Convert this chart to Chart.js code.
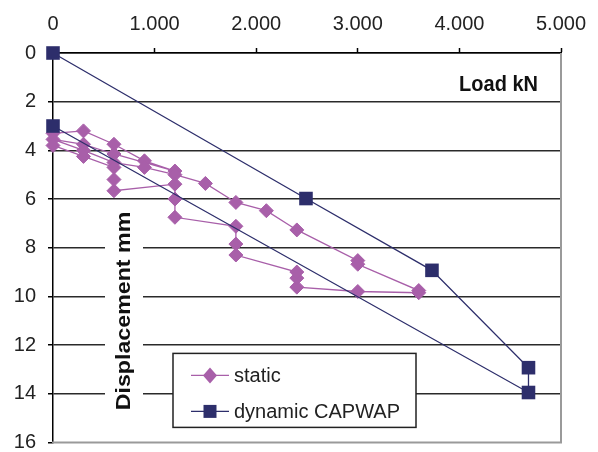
<!DOCTYPE html>
<html lang="en">
<head>
  <meta charset="UTF-8" />
  <title>Load - displacement: static vs dynamic CAPWAP</title>
  <script src="https://cdn.jsdelivr.net/npm/chart.js"></script>
  <style>
    body { margin: 0; background: #fff; }
    #wrap { width: 598px; height: 452px; }
  </style>
</head>
<body>
  <div id="wrap"><canvas id="chart" width="598" height="452"></canvas></div>

  <script>
    // static load test (kN / mm), in reading order
    const staticLoad = [0, 300, 600, 900, 1200, 600, 300, 0, 300, 600, 900, 1200, 1500, 1800, 2100, 2400, 3000, 3000, 3600, 3600,
                        3000, 2400, 2400, 2400, 1800, 1800, 1800, 1200, 1200, 1200, 600, 600, 600, 300, 0];
    const staticDisp = [3.3, 3.2, 3.75, 4.43, 4.85, 4.15, 3.75, 3.55, 4.0, 4.5, 4.7, 5.0, 5.36, 6.14, 6.48, 7.27, 8.53, 8.68, 9.76, 9.85,
                        9.8, 9.62, 9.25, 9.0, 8.3, 7.85, 7.12, 6.75, 6.0, 5.39, 5.66, 5.2, 4.7, 4.25, 3.8];

    // dynamic test (CAPWAP)
    const dynamicLoad = [0, 2490, 3730, 4680, 4680, 0];
    const dynamicDisp = [0, 5.98, 8.93, 12.93, 13.95, 3.0];

    const seriesNames = ['static', 'dynamic CAPWAP'];
    const xTitle = 'Load kN';
    const yTitle = 'Displacement mm';

    const purple = '#a85fa9';
    const navy = '#2d2e6b';
    const FONT = "'Liberation Sans', Arial, sans-serif";

    const toPoints = (xs, ys) => xs.map((x, i) => ({ x: x, y: ys[i] }));
    const fmtThousands = v => String(v).replace(/\B(?=(\d{3})+(?!\d))/g, '.');

    // border, axis title, "Load kN" and the boxed legend
    const extras = {
      id: 'extras',
      beforeDatasetsDraw(chart) {
        const { ctx, chartArea: a } = chart;
        ctx.save();
        ctx.strokeStyle = '#9a9a9a';
        ctx.lineWidth = 2;
        ctx.beginPath();
        ctx.moveTo(a.right, a.top);
        ctx.lineTo(a.right, a.bottom);
        ctx.lineTo(a.left - 1, a.bottom);
        ctx.stroke();

        // y title sits on a white box inside the plot
        ctx.fillStyle = '#fff';
        ctx.fillRect(a.left + 52, a.top + 154, 38, 212);
        ctx.fillStyle = '#111';
        ctx.font = 'bold 20px ' + FONT;
        ctx.textAlign = 'center';
        ctx.textBaseline = 'middle';
        ctx.translate(a.left + 71, a.top + 258);
        ctx.rotate(-Math.PI / 2);
        ctx.scale(1.16, 1);
        ctx.fillText(yTitle, 0, 0);
        ctx.restore();

        ctx.save();
        ctx.fillStyle = '#111';
        ctx.font = 'bold 20px ' + FONT;
        ctx.textAlign = 'right';
        ctx.textBaseline = 'middle';
        ctx.translate(a.right - 23, a.top + 32);
        ctx.scale(1, 1.12);
        ctx.fillText(xTitle, 0, 0);
        ctx.restore();
      },
      afterDatasetsDraw(chart) {
        const { ctx, chartArea: a } = chart;
        const bx = a.left + 120, by = a.bottom - 89, bw = 243, bh = 74;
        ctx.save();
        ctx.fillStyle = '#fff';
        ctx.fillRect(bx, by, bw, bh);
        ctx.strokeStyle = '#222';
        ctx.lineWidth = 1.5;
        ctx.strokeRect(bx, by, bw, bh);

        chart.data.datasets.forEach((ds, i) => {
          const cy = by + 22 + i * 36;
          const mx = bx + 37;
          ctx.strokeStyle = ds.borderColor;
          ctx.lineWidth = 1.3;
          ctx.beginPath();
          ctx.moveTo(bx + 18, cy);
          ctx.lineTo(bx + 56, cy);
          ctx.stroke();
          ctx.fillStyle = ds.pointBackgroundColor;
          ctx.beginPath();
          if (ds.pointStyle === 'rectRot') {
            ctx.moveTo(mx - 7, cy);
            ctx.lineTo(mx, cy - 8);
            ctx.lineTo(mx + 7, cy);
            ctx.lineTo(mx, cy + 8);
            ctx.closePath();
          } else {
            ctx.rect(mx - 6.5, cy - 6.5, 13, 13);
          }
          ctx.fill();

          ctx.fillStyle = '#222';
          ctx.font = '20px ' + FONT;
          ctx.textAlign = 'left';
          ctx.textBaseline = 'middle';
          ctx.fillText(ds.label, bx + 61, cy + 1);
        });
        ctx.restore();
      }
    };

    new Chart(document.getElementById('chart'), {
      type: 'scatter',
      data: {
        datasets: [
          {
            label: seriesNames[0],
            data: toPoints(staticLoad, staticDisp),
            showLine: true,
            borderColor: purple,
            borderWidth: 1.3,
            pointStyle: 'rectRot',
            pointRadius: 7,
            pointBorderWidth: 1,
            pointBackgroundColor: purple,
            pointBorderColor: purple,
            clip: false,
            order: 2
          },
          {
            label: seriesNames[1],
            data: toPoints(dynamicLoad, dynamicDisp),
            showLine: true,
            borderColor: navy,
            borderWidth: 1.3,
            pointStyle: 'rect',
            pointRadius: 9.6,
            pointBorderWidth: 0,
            pointBackgroundColor: navy,
            pointBorderColor: navy,
            clip: false,
            order: 1
          }
        ]
      },
      options: {
        responsive: false,
        animation: false,
        events: [],
        devicePixelRatio: 1,
        layout: { padding: { left: 0, top: 0, right: 37, bottom: 9 } },
        plugins: {
          legend: { display: false },
          tooltip: { enabled: false }
        },
        scales: {
          x: {
            type: 'linear',
            position: 'top',
            min: 0,
            max: 5000,
            afterFit: s => { s.height = 53; s.paddingLeft = 0; s.paddingRight = 0; },
            ticks: {
              stepSize: 1000,
              padding: 12,
              color: '#222',
              font: { family: FONT, size: 20 },
              callback: v => fmtThousands(v)
            },
            grid: { display: true, drawOnChartArea: false, drawTicks: true, tickLength: 5, tickColor: '#000', tickWidth: 1.5 },
            border: { display: true, color: '#000', width: 1.5 }
          },
          y: {
            type: 'linear',
            reverse: true,
            min: 0,
            max: 16,
            afterFit: s => { s.width = 53; s.paddingTop = 0; s.paddingBottom = 0; },
            ticks: {
              stepSize: 2,
              padding: 12,
              color: '#222',
              font: { family: FONT, size: 20 }
            },
            grid: {
              color: c => c.tick && c.tick.value === 16 ? 'rgba(0,0,0,0)' : '#2a2a2a',
              lineWidth: 1.5,
              tickLength: 5,
              tickColor: '#000',
              tickWidth: 1.5
            },
            border: { display: true, color: '#000', width: 1.5 }
          }
        }
      },
      plugins: [extras]
    });
  </script>
</body>
</html>
